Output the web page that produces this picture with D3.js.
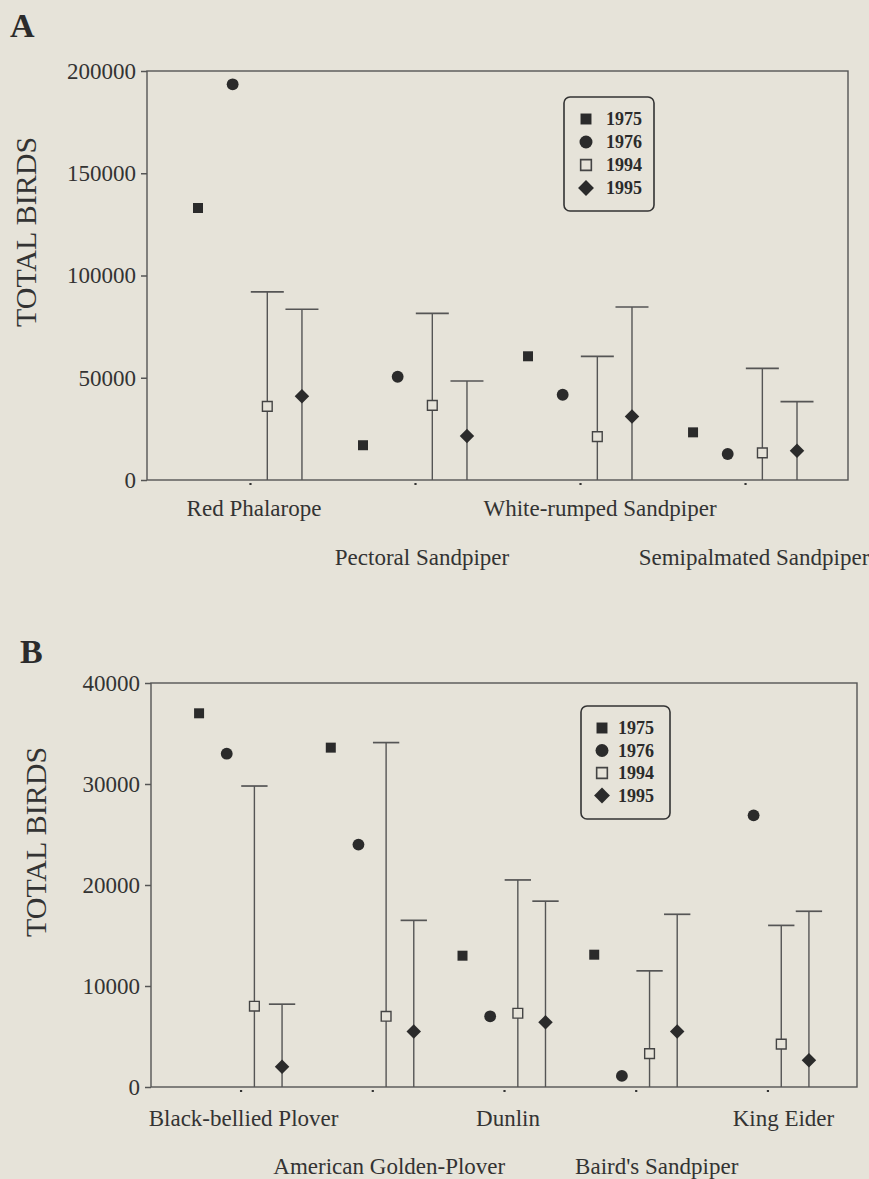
<!DOCTYPE html>
<html>
<head>
<meta charset="utf-8">
<script src="https://cdn.jsdelivr.net/npm/d3@7"></script>
<style>
  body { margin: 0; background: #e6e3d9; }
  svg { display: block; font-family: "Liberation Serif", "Times New Roman", serif; }
</style>
</head>
<body>
<div id="chart"></div>
<script>
// Shorebird counts per survey year, two panels (A and B).
const years = ["1975", "1976", "1994", "1995"];

// Panel A
const speciesA = ["Red Phalarope", "Pectoral Sandpiper", "White-rumped Sandpiper", "Semipalmated Sandpiper"];
const birds1975A = [133000, 17000, 60500, 23300];
const birds1976A = [193500, 50500, 41700, 12700];
const birds1994A = [36000, 36500, 21200, 13300];
const birds1995A = [41000, 21500, 31000, 14300];
const upper1994A = [92000, 81500, 60500, 54600];
const upper1995A = [83500, 48400, 84600, 38300];
const ticksA = [0, 50000, 100000, 150000, 200000];

// Panel B
const speciesB = ["Black-bellied Plover", "American Golden-Plover", "Dunlin", "Baird's Sandpiper", "King Eider"];
const birds1975B = [37000, 33600, 13000, 13100, null];
const birds1976B = [33000, 24000, 7000, 1100, 26900];
const birds1994B = [8000, 7000, 7300, 3300, 4250];
const birds1995B = [2000, 5500, 6400, 5500, 2650];
const upper1994B = [29800, 34100, 20500, 11500, 16000];
const upper1995B = [8200, 16500, 18400, 17100, 17400];
const ticksB = [0, 10000, 20000, 30000, 40000];

const ink = "#2b2b2b";
const lineCol = "#555";
const bg = "#e6e3d9";

const svg = d3.select("#chart")
  .append("svg")
    .attr("width", 869)
    .attr("height", 1179);

svg.append("rect")
  .attr("width", 869)
  .attr("height", 1179)
  .attr("fill", bg);

// marker shapes per year
const markers = {
  "1975": { type: d3.symbolSquare, size: 100, fill: ink, stroke: "none", rot: 0 },
  "1976": { type: d3.symbolCircle, size: 110, fill: ink, stroke: "none", rot: 0 },
  "1994": { type: d3.symbolSquare, size: 95, fill: "none", stroke: "#444", rot: 0 },
  "1995": { type: d3.symbolSquare, size: 105, fill: ink, stroke: "none", rot: 45 }
};

function drawPanel(p) {
  const g = svg.append("g");

  const x = d3.scalePoint()
    .domain(p.species)
    .range([p.left, p.right])
    .padding(p.pad);
  const step = x.step();

  const xYear = d3.scalePoint()
    .domain(years)
    .range([-0.315 * step, 0.315 * step]);

  const y = d3.scaleLinear()
    .domain([0, d3.max(p.ticks)])
    .range([p.bottom, p.top]);

  // panel letter
  g.append("text")
    .attr("x", p.letterX)
    .attr("y", p.letterY)
    .style("font-size", "34px")
    .style("font-weight", "bold")
    .attr("fill", ink)
    .text(p.letter);

  // y axis
  const yAxis = g.append("g")
    .attr("transform", `translate(${p.left},0)`)
    .call(d3.axisLeft(y).tickValues(p.ticks).tickSize(6).tickPadding(5).tickFormat(d3.format("d")));
  yAxis.select(".domain").remove();
  yAxis.selectAll("line").attr("stroke", lineCol).attr("stroke-width", 1.5);
  yAxis.selectAll("text")
    .style("font-size", "23px")
    .style("font-family", "Liberation Serif, serif")
    .attr("fill", "#333");

  // x axis: small dot ticks only
  const xAxis = g.append("g")
    .attr("transform", `translate(0,${p.bottom})`)
    .call(d3.axisBottom(x).tickSize(5).tickFormat(""));
  xAxis.select(".domain").remove();
  xAxis.selectAll("line")
    .attr("y1", 3)
    .attr("stroke", "#333")
    .attr("stroke-width", 2.2);

  // frame
  g.append("rect")
    .attr("x", p.left)
    .attr("y", p.top)
    .attr("width", p.right - p.left)
    .attr("height", p.bottom - p.top)
    .attr("fill", "none")
    .attr("stroke", lineCol)
    .attr("stroke-width", 1.4);

  // y axis title
  g.append("text")
    .attr("transform", `translate(${p.yLabelX},${p.yLabelY}) rotate(-90)`)
    .attr("text-anchor", "middle")
    .style("font-size", "30px")
    .attr("fill", "#333")
    .text("TOTAL BIRDS");

  // category labels, alternating rows
  g.selectAll(".cat-label")
    .data(p.species)
    .enter()
    .append("text")
      .attr("class", "cat-label")
      .attr("x", (d, i) => x(d) + p.nudge[i])
      .attr("y", (d, i) => p.bottom + p.rows[i % 2])
      .attr("text-anchor", "middle")
      .style("font-size", "23px")
      .attr("fill", "#333")
      .text(d => d);

  // error bars for 1994 and 1995 (from zero up to upper limit)
  const bars = [];
  ["1994", "1995"].forEach(yr => {
    p.species.forEach((s, i) => {
      bars.push({ species: s, year: yr, upper: p.upper[yr][i] });
    });
  });
  const cap = 0.2 * step;

  g.selectAll(".err")
    .data(bars)
    .enter()
    .append("line")
      .attr("class", "err")
      .attr("x1", d => x(d.species) + xYear(d.year))
      .attr("x2", d => x(d.species) + xYear(d.year))
      .attr("y1", y(0))
      .attr("y2", d => y(d.upper))
      .attr("stroke", lineCol)
      .attr("stroke-width", 1.4);

  g.selectAll(".err-cap")
    .data(bars)
    .enter()
    .append("line")
      .attr("class", "err-cap")
      .attr("x1", d => x(d.species) + xYear(d.year) - cap / 2)
      .attr("x2", d => x(d.species) + xYear(d.year) + cap / 2)
      .attr("y1", d => y(d.upper))
      .attr("y2", d => y(d.upper))
      .attr("stroke", lineCol)
      .attr("stroke-width", 1.7);

  // points
  const pts = [];
  years.forEach(yr => {
    p.species.forEach((s, i) => {
      const v = p.values[yr][i];
      if (v != null) pts.push({ species: s, year: yr, value: v });
    });
  });

  g.selectAll(".pt")
    .data(pts)
    .enter()
    .append("path")
      .attr("class", "pt")
      .attr("d", d => d3.symbol().type(markers[d.year].type).size(markers[d.year].size)())
      .attr("transform", d => `translate(${x(d.species) + xYear(d.year)},${y(d.value)}) rotate(${markers[d.year].rot})`)
      .attr("fill", d => markers[d.year].fill === "none" ? bg : markers[d.year].fill)
      .attr("stroke", d => markers[d.year].stroke)
      .attr("stroke-width", 1.4);

  // legend
  const lg = g.append("g")
    .attr("transform", `translate(${p.legendX},${p.legendY})`);
  lg.append("rect")
    .attr("width", p.legendW)
    .attr("height", p.legendH)
    .attr("rx", 6)
    .attr("fill", "none")
    .attr("stroke", "#333")
    .attr("stroke-width", 1.6);

  const items = lg.selectAll(".leg")
    .data(years)
    .enter()
    .append("g")
      .attr("class", "leg")
      .attr("transform", (d, i) => `translate(0,${22 + i * p.legendStep})`);

  items.append("path")
    .attr("d", d => d3.symbol().type(markers[d].type).size(markers[d].size * 1.2)())
    .attr("transform", d => `translate(${p.legendSymX},0) rotate(${markers[d].rot})`)
    .attr("fill", d => markers[d].fill)
    .attr("stroke", d => markers[d].stroke)
    .attr("stroke-width", 1.6);

  items.append("text")
    .attr("x", p.legendTextX)
    .attr("y", 6)
    .style("font-size", "18px")
    .style("font-weight", "bold")
    .attr("fill", ink)
    .text(d => d);
}

drawPanel({
  letter: "A", letterX: 10, letterY: 37,
  left: 147, right: 848, top: 71, bottom: 480, pad: 0.624,
  species: speciesA,
  values: { "1975": birds1975A, "1976": birds1976A, "1994": birds1994A, "1995": birds1995A },
  upper: { "1994": upper1994A, "1995": upper1995A },
  ticks: ticksA,
  yLabelX: 36, yLabelY: 232,
  rows: [36, 85],
  nudge: [4, 7, 20, 9],
  legendX: 564, legendY: 97, legendW: 90, legendH: 114, legendStep: 23,
  legendSymX: 22, legendTextX: 42
});

drawPanel({
  letter: "B", letterX: 20, letterY: 663,
  left: 151, right: 857, top: 683, bottom: 1087, pad: 0.68,
  species: speciesB,
  values: { "1975": birds1975B, "1976": birds1976B, "1994": birds1994B, "1995": birds1995B },
  upper: { "1994": upper1994B, "1995": upper1995B },
  ticks: ticksB,
  yLabelX: 46, yLabelY: 842,
  rows: [39, 87],
  nudge: [3, 17, 4, 21, 16],
  legendX: 581, legendY: 706, legendW: 89, legendH: 113, legendStep: 22.5,
  legendSymX: 21, legendTextX: 37
});
</script>
</body>
</html>
